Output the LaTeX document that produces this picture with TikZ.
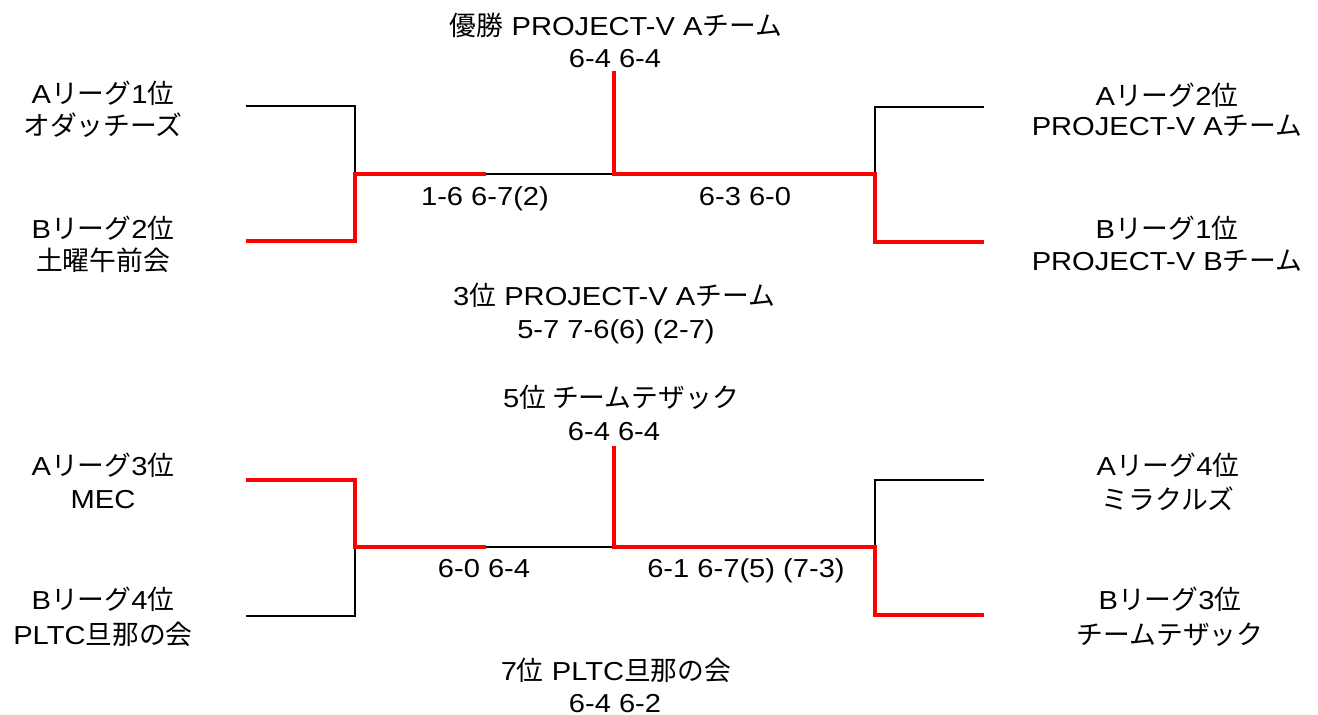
\documentclass[tikz,border=0pt]{standalone}
\usepackage{fontspec}
\setmainfont{Liberation Sans}[FakeStretch=1.12]
\newfontfamily\jp{Noto Sans CJK JP}[Scale=1.03]
\begin{document}
\begin{tikzpicture}[x=1pt,y=-1pt,
  lbl/.style={anchor=base,inner sep=0pt,font=\fontsize{26}{32}\selectfont},
  loser/.style={draw=black,line width=2pt,line join=miter},
  winner/.style={draw=red,line width=4.5pt,line join=miter}]
\useasboundingbox[fill=white] (0,0) rectangle (1318,715);

% ---------- top bracket coordinates ----------
\coordinate (L1) at (246,106);  \coordinate (L1c) at (355,106);
\coordinate (L2) at (246,241);  \coordinate (L2c) at (355,241);
\coordinate (LM) at (355,174);  \coordinate (LH) at (486,174);
\coordinate (C) at (614,174);   \coordinate (CT) at (614,71);
\coordinate (RM) at (875,174);
\coordinate (R1c) at (875,107); \coordinate (R1) at (984,107);
\coordinate (R2c) at (875,242); \coordinate (R2) at (984,242);

% ---------- bottom bracket coordinates ----------
\coordinate (L3) at (246,480);  \coordinate (L3c) at (355,480);
\coordinate (L4) at (246,616);  \coordinate (L4c) at (355,616);
\coordinate (LM2) at (355,547); \coordinate (LH2) at (486,547);
\coordinate (C2) at (614,547);  \coordinate (CT2) at (614,446);
\coordinate (RM2) at (875,547);
\coordinate (R3c) at (875,480); \coordinate (R3) at (984,480);
\coordinate (R4c) at (875,615); \coordinate (R4) at (984,615);

% black lines
\draw[loser] (L1) -- (L1c) -- (LM);
\draw[loser] (LH) -- (C);
\draw[loser] (RM) -- (R1c) -- (R1);
\draw[loser] (L4) -- (L4c) -- (LM2);
\draw[loser] (LH2) -- (C2);
\draw[loser] (RM2) -- (R3c) -- (R3);

% red lines
\draw[winner] (L2) -- (L2c) -- (LM) -- (LH);
\draw[winner] (CT) -- (C) -- (RM) -- (R2c) -- (R2);
\draw[winner] (L3) -- (L3c) -- (LM2) -- (LH2);
\draw[winner] (CT2) -- (C2) -- (RM2) -- (R4c) -- (R4);

% ---------- top texts ----------
\node[lbl] (champ) at (616,35) {{\jp 優勝} PROJECT-V A{\jp チーム}};
\node[lbl] (champs) at (615,67) {6-4 6-4};
\node[lbl] (a1) at (103,103) {A{\jp リーグ}1{\jp 位}};
\node[lbl] (a1n) at (103,135) {\jp オダッチーズ};
\node[lbl] (b2) at (103,238) {B{\jp リーグ}2{\jp 位}};
\node[lbl] (b2n) at (103,270) {\jp 土曜午前会};
\node[lbl] (a2) at (1167,105) {A{\jp リーグ}2{\jp 位}};
\node[lbl] (a2n) at (1167,135) {PROJECT-V A{\jp チーム}};
\node[lbl] (b1) at (1167,238) {B{\jp リーグ}1{\jp 位}};
\node[lbl] (b1n) at (1167,270) {PROJECT-V B{\jp チーム}};
\node[lbl] (s1) at (485,205) {1-6 6-7(2)};
\node[lbl] (s2) at (745,205) {6-3 6-0};
\node[lbl] (third) at (614,305) {3{\jp 位} PROJECT-V A{\jp チーム}};
\node[lbl] (thirds) at (616,338) {5-7 7-6(6) (2-7)};

% ---------- bottom texts ----------
\node[lbl] (fifth) at (621,407) {5{\jp 位 チームテザック}};
\node[lbl] (fifths) at (614,440) {6-4 6-4};
\node[lbl] (a3) at (103,475) {A{\jp リーグ}3{\jp 位}};
\node[lbl] (a3n) at (103,508) {MEC};
\node[lbl] (b4) at (103,609) {B{\jp リーグ}4{\jp 位}};
\node[lbl] (b4n) at (103,644) {PLTC{\jp 旦那の会}};
\node[lbl] (a4) at (1168,475) {A{\jp リーグ}4{\jp 位}};
\node[lbl] (a4n) at (1168,509) {\jp ミラクルズ};
\node[lbl] (b3) at (1170,609) {B{\jp リーグ}3{\jp 位}};
\node[lbl] (b3n) at (1170,644) {\jp チームテザック};
\node[lbl] (s3) at (484,577) {6-0 6-4};
\node[lbl] (s4) at (746,577) {6-1 6-7(5) (7-3)};
\node[lbl] (seventh) at (616,680) {7{\jp 位} PLTC{\jp 旦那の会}};
\node[lbl] (sevenths) at (615,712) {6-4 6-2};
\end{tikzpicture}
\end{document}
